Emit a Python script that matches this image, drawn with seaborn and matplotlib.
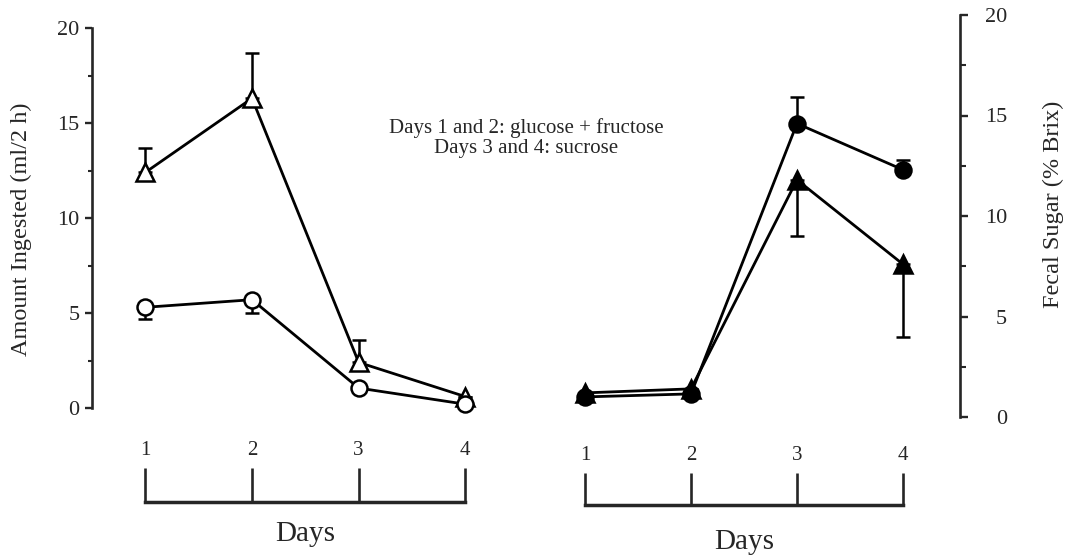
import matplotlib
matplotlib.use("Agg")
import matplotlib.pyplot as plt
import seaborn as sns
from matplotlib.transforms import blended_transform_factory

# ---- data -------------------------------------------------------------
days = [1, 2, 3, 4]
day_labels = ["1", "2", "3", "4"]

# Amount ingested (ml/2 h)
intake_open_tri = [12.4, 16.3, 2.4, 0.6]
intake_open_tri_err = [1.3, 2.4, 1.2, 0.0]      # upper half only
intake_open_circ = [5.3, 5.7, 1.05, 0.2]
intake_open_circ_err = [0.6, 0.7, 0.0, 0.0]     # lower half only

# Fecal sugar (% Brix)
fecal_circ = [1.0, 1.15, 14.6, 12.3]
fecal_circ_err = [0.0, 0.0, 1.3, 0.5]           # upper half only
fecal_tri = [1.2, 1.4, 11.8, 7.6]
fecal_tri_err = [0.0, 0.0, 2.8, 3.6]            # lower half only

y_ticks = [0, 5, 10, 15, 20]
y_minor = [2.5, 7.5, 12.5, 17.5]

note = "Days 1 and 2: glucose + fructose\nDays 3 and 4: sucrose"

# ---- style ------------------------------------------------------------
sns.set_style("ticks")
plt.rcParams["font.family"] = ["Liberation Serif", "DejaVu Serif"]
plt.rcParams["axes.linewidth"] = 1.9

W, H = 1071, 558
fig = plt.figure(figsize=(W / 100, H / 100), dpi=100)


def px_box(l, t, r, b):
    return [l / W, 1 - b / H, (r - l) / W, (b - t) / H]


LW = 2.0
TICK_FS = 16


def draw_series(ax, y, err, side, marker, filled):
    lower = [e if side == "down" else 0 for e in err]
    upper = [e if side == "up" else 0 for e in err]
    ax.errorbar(days, y, yerr=[lower, upper], fmt="none", ecolor="black",
                elinewidth=1.8, capsize=5, capthick=1.8, zorder=2, clip_on=False)
    sns.lineplot(x=days, y=y, ax=ax, color="black", lw=LW, marker=marker,
                 markersize=11.5 if marker == "o" else 12.5,
                 markerfacecolor="black" if filled else "white",
                 markeredgecolor="black", markeredgewidth=1.8,
                 errorbar=None, zorder=3, clip_on=False)


def bracket_axis(rect, share, label_y):
    bx = fig.add_axes(rect, sharex=share)
    for s in ("left", "right", "top"):
        bx.spines[s].set_visible(False)
    bx.spines["bottom"].set_linewidth(2.5)
    bx.spines["bottom"].set_bounds(days[0], days[-1])
    bx.set_yticks([])
    bx.set_xticks(days)
    bx.set_xticklabels(day_labels)
    bx.tick_params(axis="x", which="major", bottom=True, top=False,
                   labelbottom=False, labeltop=True, direction="in",
                   length=rect[3] * H * 72 / 100, width=1.9, pad=6,
                   labelsize=15)
    bx.set_facecolor("none")
    bx.set_xlabel("Days", fontsize=21)
    bx.xaxis.set_label_coords((days[0] + days[-1]) / 2, label_y,
                              transform=blended_transform_factory(bx.transData, bx.transAxes))
    return bx


# ---- left panel: amount ingested ---------------------------------------
axL = fig.add_axes(px_box(92, 28, 492, 408))
axL.set_xlim(0.5, 4.25)
axL.set_ylim(0, 20)
draw_series(axL, intake_open_tri, intake_open_tri_err, "up", "^", False)
draw_series(axL, intake_open_circ, intake_open_circ_err, "down", "o", False)
for s in ("right", "top", "bottom"):
    axL.spines[s].set_visible(False)
axL.set_yticks(y_ticks)
axL.set_yticks(y_minor, minor=True)
axL.tick_params(axis="y", which="major", length=5, width=1.7, pad=4, labelsize=TICK_FS)
axL.tick_params(axis="y", which="minor", length=3, width=1.5)
axL.tick_params(axis="x", bottom=False, labelbottom=False)
axL.set_ylabel("Amount Ingested (ml/2 h)", fontsize=17.5)
axL.yaxis.set_label_coords(-0.15, 0.47)
axL.set_xlabel("")
axL.set_facecolor("none")

bracket_axis(px_box(92, 468, 492, 502), axL, -0.55)

# ---- right panel: fecal sugar -------------------------------------------
axR = fig.add_axes(px_box(530, 15, 960, 417))
axR.set_xlim(0.481, 4.538)
axR.set_ylim(0, 20)
draw_series(axR, fecal_circ, fecal_circ_err, "up", "o", True)
draw_series(axR, fecal_tri, fecal_tri_err, "down", "^", True)
for s in ("left", "top", "bottom"):
    axR.spines[s].set_visible(False)
axR.yaxis.tick_right()
axR.yaxis.set_label_position("right")
axR.set_yticks(y_ticks)
axR.set_yticks(y_minor, minor=True)
axR.tick_params(axis="y", which="major", length=6, width=1.7, pad=28, labelsize=TICK_FS)
axR.tick_params(axis="y", which="minor", length=4, width=1.5)
for t in axR.yaxis.get_major_ticks():
    t.label2.set_horizontalalignment("right")
axR.tick_params(axis="x", bottom=False, labelbottom=False)
axR.set_ylabel("Fecal Sugar (% Brix)", fontsize=17.5, rotation=90)
axR.yaxis.set_label_coords(1.193, 0.53)
axR.set_xlabel("")
axR.set_facecolor("none")

bracket_axis(px_box(530, 473, 960, 505), axR, -0.74)

fig.text(526 / W, 1 - 138 / H, note, ha="center", va="center",
         multialignment="center", fontsize=15, linespacing=1.1)

fig.savefig("out.png", dpi=100, facecolor="white")
